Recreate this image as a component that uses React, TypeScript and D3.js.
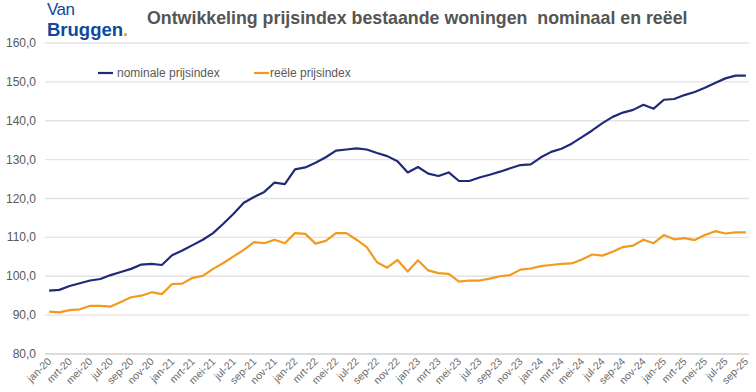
import React, { useEffect, useRef } from "react"
import * as d3 from "d3"

const monthNames = ["jan", "feb", "mrt", "apr", "mei", "jun", "jul", "aug", "sep", "okt", "nov", "dec"]
const years = ["20", "21", "22", "23", "24", "25"]
const lastMonthIndex = 8 // sep-25

const nominal = [
	96.3, 96.5, 97.5, 98.2, 98.9, 99.3, 100.3, 101.1, 101.9, 103.0, 103.2, 102.9,
	105.4, 106.6, 108.0, 109.4, 111.1, 113.5, 116.1, 118.9, 120.4, 121.7, 124.1, 123.7,
	127.5, 128.0, 129.2, 130.6, 132.3, 132.6, 132.9, 132.6, 131.7, 130.9, 129.6, 126.7,
	128.1, 126.4, 125.8, 126.7, 124.5, 124.5, 125.4, 126.1, 126.9, 127.8, 128.6, 128.8,
	130.6, 132.0, 132.8, 134.1, 135.8, 137.5, 139.4, 141.0, 142.1, 142.8, 144.1, 143.1,
	145.4, 145.6, 146.6, 147.4, 148.5, 149.7, 150.9, 151.6, 151.6,
]

const real = [
	90.9, 90.7, 91.3, 91.5, 92.4, 92.4, 92.2, 93.4, 94.6, 95.0, 95.9, 95.4,
	98.0, 98.1, 99.6, 100.1, 101.9, 103.4, 105.1, 106.8, 108.8, 108.5, 109.4, 108.5,
	111.1, 110.9, 108.4, 109.1, 111.1, 111.1, 109.4, 107.5, 103.6, 102.2, 104.2, 101.2,
	104.1, 101.5, 100.8, 100.6, 98.6, 98.9, 98.9, 99.4, 100.0, 100.3, 101.7, 102.0,
	102.6, 102.9, 103.2, 103.3, 104.3, 105.6, 105.3, 106.3, 107.5, 107.9, 109.4, 108.5,
	110.6, 109.5, 109.8, 109.3, 110.6, 111.6, 111.0, 111.3, 111.3,
]

const yTicks = [80, 90, 100, 110, 120, 130, 140, 150, 160]
const seriesNames = ["nominale prijsindex", "reële prijsindex"]

const categories: string[] = []
years.forEach((y, yi) => {
	monthNames.forEach((m, mi) => {
		if (yi === years.length - 1 && mi > lastMonthIndex) return
		categories.push(m + "-" + y)
	})
})

const W = 756
const H = 392
const FONT = "'Liberation Sans', Arial, sans-serif"

export default function App() {
	const ref = useRef<SVGSVGElement>(null)

	useEffect(() => {
		const svg = d3.select(ref.current)
		svg.selectAll("*").remove()

		const x = d3.scalePoint<string>().domain(categories).range([44, 751]).padding(0.5)
		const y = d3.scaleLinear().domain([80, 160]).range([354, 43])

		svg.append("rect").attr("width", W).attr("height", H).attr("fill", "#ffffff")

		// gridlines
		svg.append("g")
			.selectAll("line")
			.data(yTicks)
			.enter()
			.append("line")
			.attr("x1", 45)
			.attr("x2", 749)
			.attr("y1", d => y(d))
			.attr("y2", d => y(d))
			.attr("stroke", d => (d === 80 ? "#d0d0d0" : "#e3e3e3"))
			.attr("stroke-width", 1.3)

		// y labels
		svg.append("g")
			.selectAll("text")
			.data(yTicks)
			.enter()
			.append("text")
			.attr("x", 36)
			.attr("y", d => y(d) + 4)
			.attr("text-anchor", "end")
			.attr("font-family", FONT)
			.attr("font-size", 12)
			.attr("fill", "#595959")
			.text(d => d3.format(".1f")(d).replace(".", ","))

		// x labels, every second month
		const shown = categories.filter((c, i) => i % 2 === 0)
		svg.append("g")
			.selectAll("text")
			.data(shown)
			.enter()
			.append("text")
			.attr("transform", d => "translate(" + ((x(d) as number) + 3) + ",362) rotate(-45)")
			.attr("text-anchor", "end")
			.attr("font-family", FONT)
			.attr("font-size", 10.5)
			.attr("fill", "#6a6a6a")
			.text(d => d)

		const line = d3
			.line<number>()
			.x((d, i) => x(categories[i]) as number)
			.y(d => y(d))

		svg.append("path").datum(real).attr("d", line).attr("fill", "none").attr("stroke", "#f39a1e").attr("stroke-width", 2.2).attr("stroke-linejoin", "round")
		svg.append("path").datum(nominal).attr("d", line).attr("fill", "none").attr("stroke", "#1f2a78").attr("stroke-width", 2.2).attr("stroke-linejoin", "round")

		// legend
		const legend = [
			{ name: seriesNames[0], color: "#1f2a78", x: 98 },
			{ name: seriesNames[1], color: "#f39a1e", x: 254 },
		]
		legend.forEach((l, i) => {
			svg.append("line").attr("x1", l.x).attr("x2", l.x + 15).attr("y1", 73).attr("y2", 73).attr("stroke", l.color).attr("stroke-width", 2.2)
			svg.append("text")
				.attr("x", l.x + (i === 0 ? 19 : 16))
				.attr("y", 77)
				.attr("font-family", FONT)
				.attr("font-size", 12)
				.attr("fill", "#595959")
				.text(l.name)
		})

		// title
		svg.append("text")
			.attr("x", 147)
			.attr("y", 24)
			.attr("font-family", FONT)
			.attr("font-size", 17.8)
			.attr("font-weight", "bold")
			.attr("fill", "#555555")
			.style("white-space", "pre")
			.text("Ontwikkeling prijsindex bestaande woningen  nominaal en reëel")

		// logo
		svg.append("text")
			.attr("x", 47)
			.attr("y", 15)
			.attr("font-family", FONT)
			.attr("font-size", 17)
			.attr("fill", "#0d4a9e")
			.attr("letter-spacing", -0.5)
			.text("Van")
		const b = svg.append("text")
			.attr("x", 47)
			.attr("y", 36)
			.attr("font-family", FONT)
			.attr("font-size", 18.5)
			.attr("font-weight", "bold")
			.attr("fill", "#0d4a9e")
			.attr("letter-spacing", 0)
		b.append("tspan").text("Bruggen")
		b.append("tspan").attr("fill", "#f39a1e").text(".")
	}, [])

	return <svg ref={ref} width={W} height={H} style={{ position: "absolute", left: 0, top: 0 }} />
}
